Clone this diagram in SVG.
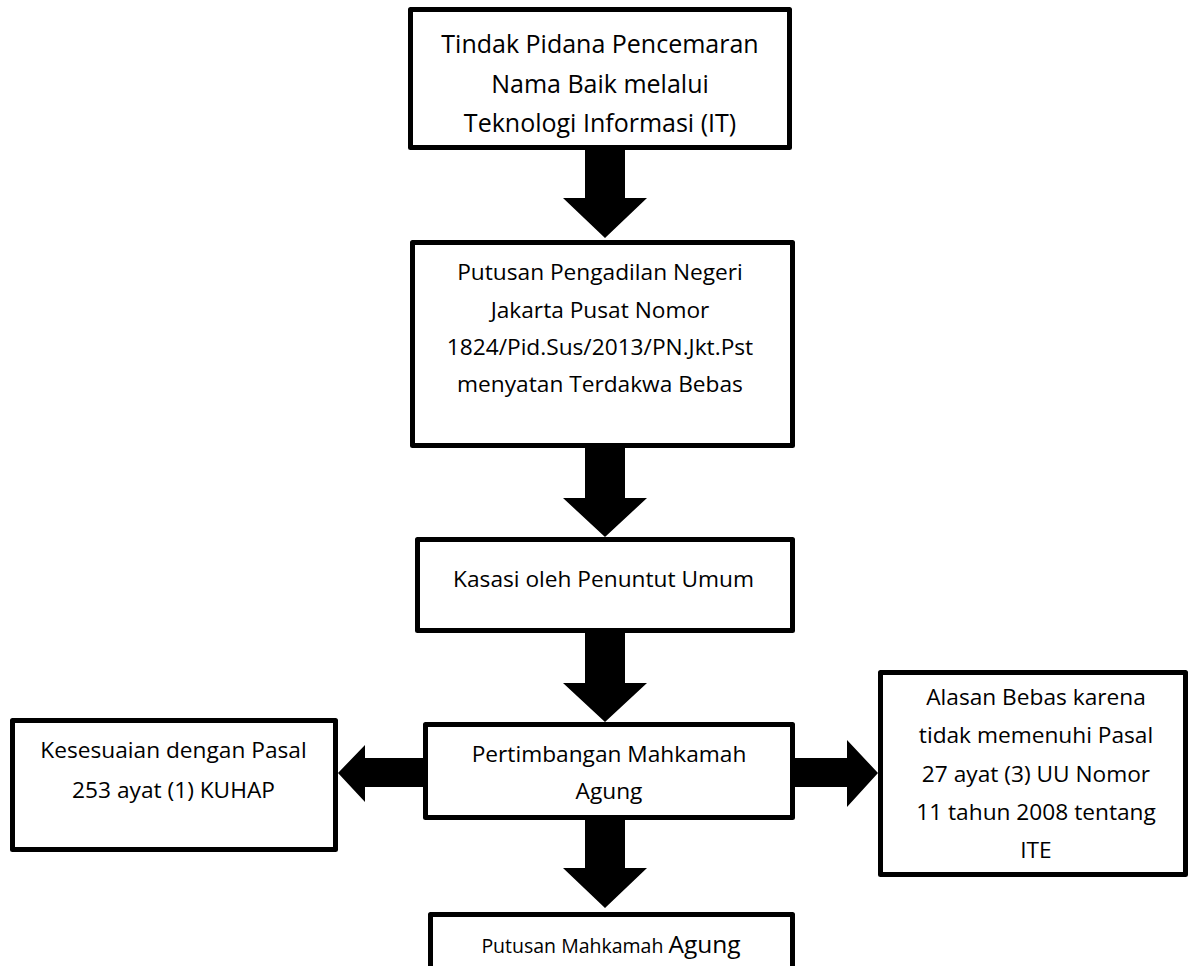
<svg xmlns="http://www.w3.org/2000/svg" width="1190" height="966" viewBox="0 0 1190 966">
<style>
.box{fill:#fff;stroke:#000;stroke-width:5;stroke-linejoin:round}
.arr{fill:#000;stroke:none}
text{font-family:"Open Sans","Liberation Sans",sans-serif;fill:#000;text-anchor:middle}
.t1{font-size:25px}
.t2{font-size:22.7px}
</style>
<rect width="1190" height="966" fill="#fff"/>
<g id="connectors">
<polygon class="arr" points="585,148 625,148 625,198 647,198 605,238 563,198 585,198"/>
<polygon class="arr" points="585,446 625,446 625,498 647,498 605,537 563,498 585,498"/>
<polygon class="arr" points="585,631 625,631 625,683 647,683 605,722 563,683 585,683"/>
<polygon class="arr" points="585,818 625,818 625,868 647,868 605,908 563,868 585,868"/>
<polygon class="arr" points="425,758 365,758 365,745 338,773 365,802 365,787 425,787"/>
<polygon class="arr" points="793,758 847,758 847,740 878,773 847,807 847,787 793,787"/>
</g>
<g id="node1">
<rect class="box" x="410.5" y="9.5" width="379" height="138"/>
<text class="t1"><tspan x="600" y="53">Tindak Pidana Pencemaran</tspan><tspan x="600" y="93">Nama Baik melalui</tspan><tspan x="600" y="132">Teknologi Informasi (IT)</tspan></text>
</g>
<g id="node2">
<rect class="box" x="412.5" y="242.5" width="380" height="203"/>
<text class="t2"><tspan x="600" y="280">Putusan Pengadilan Negeri</tspan><tspan x="600" y="318">Jakarta Pusat Nomor</tspan><tspan x="600" y="355">1824/Pid.Sus/2013/PN.Jkt.Pst</tspan><tspan x="600" y="392">menyatan Terdakwa Bebas</tspan></text>
</g>
<g id="node3">
<rect class="box" x="417.5" y="539.5" width="375" height="91"/>
<text class="t2" x="603.5" y="587">Kasasi oleh Penuntut Umum</text>
</g>
<g id="node4">
<rect class="box" x="425.5" y="724.5" width="367" height="93"/>
<text class="t2"><tspan x="609" y="762">Pertimbangan Mahkamah</tspan><tspan x="609" y="799">Agung</tspan></text>
</g>
<g id="node5">
<rect class="box" x="430.5" y="914.5" width="362" height="100"/>
<text x="611" y="953"><tspan style="font-size:19.5px">Putusan Mahkamah </tspan><tspan style="font-size:24.5px">Agung</tspan></text>
</g>
<g id="node6">
<rect class="box" x="12.5" y="720.5" width="323" height="129"/>
<text class="t2"><tspan x="173.5" y="758">Kesesuaian dengan Pasal</tspan><tspan x="173.5" y="798">253 ayat (1) KUHAP</tspan></text>
</g>
<g id="node7">
<rect class="box" x="880.5" y="672.5" width="305" height="202"/>
<text class="t2"><tspan x="1036" y="705">Alasan Bebas karena</tspan><tspan x="1036" y="743">tidak memenuhi Pasal</tspan><tspan x="1036" y="782">27 ayat (3) UU Nomor</tspan><tspan x="1036" y="820">11 tahun 2008 tentang</tspan><tspan x="1036" y="858">ITE</tspan></text>
</g>
</svg>
